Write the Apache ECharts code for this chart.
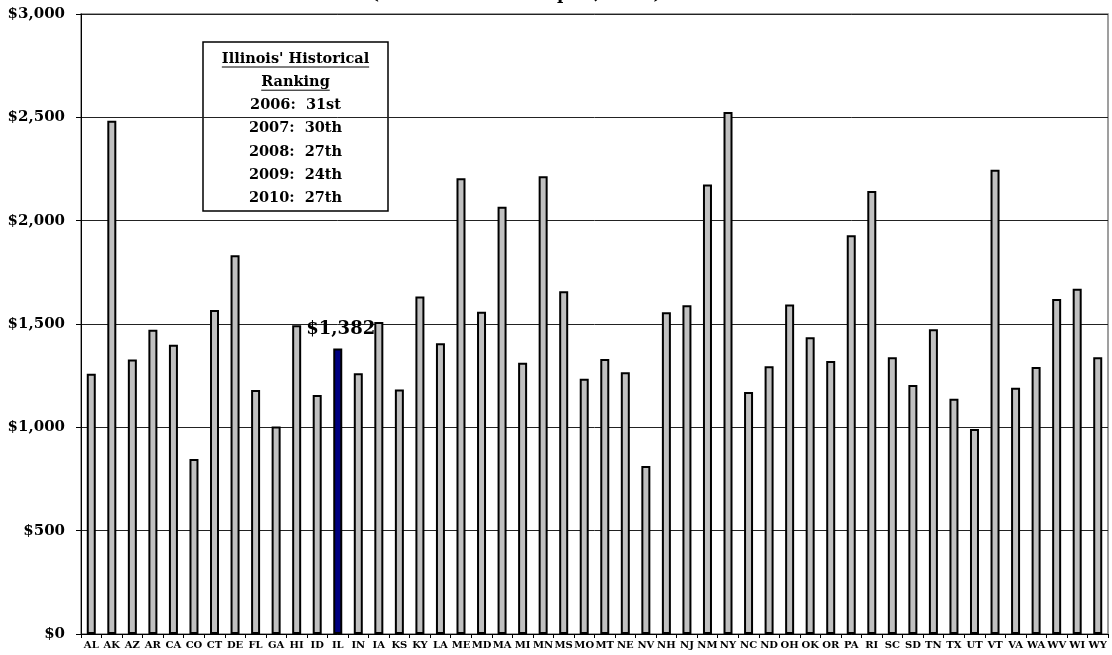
<!DOCTYPE html>
<html>
<head>
<meta charset="utf-8">
<script src="https://cdn.jsdelivr.net/npm/echarts@6/dist/echarts.min.js"></script>
<style>
html,body{margin:0;padding:0;background:#fff;}
#chart{width:1112px;height:655px;}
</style>
</head>
<body>
<div id="chart"></div>
<script>
const states = ["AL","AK","AZ","AR","CA","CO","CT","DE","FL","GA","HI","ID","IL","IN","IA","KS","KY","LA","ME","MD","MA","MI","MN","MS","MO","MT","NE","NV","NH","NJ","NM","NY","NC","ND","OH","OK","OR","PA","RI","SC","SD","TN","TX","UT","VT","VA","WA","WV","WI","WY"];
const values = [1259,2484,1328,1472,1400,847,1568,1833,1181,1004,1494,1157,1382,1262,1510,1183,1633,1407,2205,1559,2067,1312,2215,1658,1235,1331,1266,813,1557,1591,2175,2526,1171,1296,1594,1436,1321,1929,2144,1339,1205,1474,1138,992,2246,1192,1292,1621,1670,1339];
const highlightState = "IL";
const yTicks = [0,500,1000,1500,2000,2500,3000];
const boxLines = ["Illinois' Historical","Ranking","2006:  31st","2007:  30th","2008:  27th","2009:  24th","2010:  27th"];
const underlinedLines = 2;
const titleText = "(Local Taxes Per Capita, 2010)";

const FONT = '"DejaVu Serif", "Liberation Serif", serif';
const fmt = v => '$' + v.toLocaleString('en-US');

const chart = echarts.init(document.getElementById('chart'), null, {renderer:'canvas'});

const seriesData = values.map((v,i) => {
  const item = {value: v};
  if (states[i] === highlightState) {
    item.itemStyle = {color:'#000080'};
    item.label = {show:true, position:'top', distance:10, offset:[3,0], formatter: p => fmt(p.value),
      fontFamily: FONT, fontWeight:'bold', fontSize:18, color:'#000'};
  }
  return item;
});

const cv = document.createElement('canvas').getContext('2d');
const boxFont = 'bold 14.5px ' + FONT;
cv.font = boxFont;

const boxX = 203, boxY = 42, boxW = 185, boxH = 169;
const cx = boxX + boxW/2;
const lineH = 23.2, firstY = 59;
const boxChildren = [{
  type:'rect', shape:{x:boxX, y:boxY, width:boxW, height:boxH},
  style:{fill:'#fff', stroke:'#000', lineWidth:1.5}
}];
boxLines.forEach((t,i) => {
  const y = firstY + i*lineH;
  boxChildren.push({type:'text', style:{text:t, x:cx, y:y, textAlign:'center', textVerticalAlign:'middle',
    font: boxFont, fill:'#000'}});
  if (i < underlinedLines) {
    const w = cv.measureText(t).width;
    boxChildren.push({type:'line', shape:{x1:cx-w/2, y1:y+8, x2:cx+w/2, y2:y+8}, style:{stroke:'#000', lineWidth:1}});
  }
});

chart.setOption({
  animation:false,
  backgroundColor:'#fff',
  title:{text:titleText, left:366, top:-19,
    textStyle:{fontFamily:FONT, fontWeight:'bold', fontSize:17, color:'#000'}},
  grid:{left:81, right:4, top:14, bottom:21, show:true, borderColor:'#808080', borderWidth:1.5, containLabel:false},
  xAxis:{type:'category', data:states,
    axisLine:{lineStyle:{color:'#000', width:1}},
    axisTick:{show:true, length:4, lineStyle:{color:'#000'}},
    axisLabel:{interval:0, margin:6, fontFamily:FONT, fontWeight:'bold', fontSize:10, color:'#000'}},
  yAxis:{type:'value', min:yTicks[0], max:yTicks[yTicks.length-1], interval:yTicks[1]-yTicks[0],
    axisLine:{show:true, lineStyle:{color:'#000', width:1}},
    axisTick:{show:true, length:5, lineStyle:{color:'#000'}},
    splitLine:{show:true, lineStyle:{color:'#222', width:1}},
    axisLabel:{margin:16, fontFamily:FONT, fontWeight:'bold', fontSize:15, color:'#000', formatter: v => fmt(v)}},
  series:[{type:'bar', data:seriesData, barWidth:9,
    itemStyle:{color:'#C0C0C0', borderColor:'#000', borderWidth:2}}],
  graphic:[{type:'group', z:100, children:boxChildren}]
});
</script>
</body>
</html>
